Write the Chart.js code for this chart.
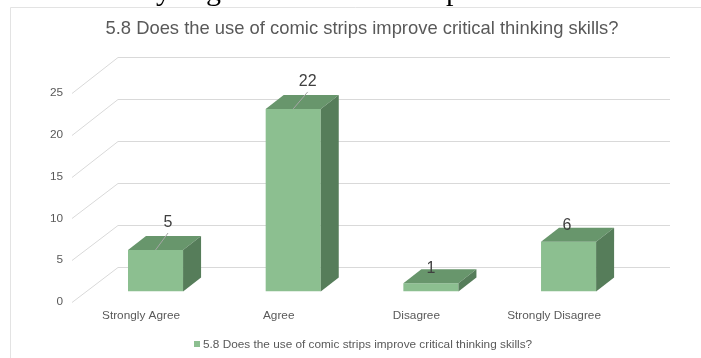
<!DOCTYPE html>
<html>
<head>
<meta charset="utf-8">
<script src="https://cdn.jsdelivr.net/npm/chart.js@4.4.1/dist/chart.umd.min.js"></script>
<style>
html,body{margin:0;padding:0;background:#fff;}
#wrap{width:701px;height:358px;position:relative;}
</style>
</head>
<body>
<div id="wrap"><canvas id="c" width="701" height="358"></canvas></div>
<script>
// ---- data ----
const titleText = "5.8 Does the use of comic strips improve critical thinking skills?";
const categories = ["Strongly Agree", "Agree", "Disagree", "Strongly Disagree"];
const seriesName = "5.8 Does the use of comic strips improve critical thinking skills?";
const seriesValues = [5, 22, 1, 6];
const yTicks = [0, 5, 10, 15, 20, 25];

// ---- style ----
const FONT = "'Liberation Sans', Arial, sans-serif";
const TEXT = "#595959";
const GRID = "#d9d9d9";
const FRONT = "#8cbf90";
const TOP = "#68966c";
const SIDE = "#567d5a";
const DEPTH_X = 18, DEPTH_Y = -14;
// label placement (dx, dy from bar front-top centre, leader line)
const labelPlace = [[12.5, -27, true], [14.5, -27, true], [0, -15, false], [-1.5, -16, false]];

const threeD = {
  id: 'threeD',
  beforeDatasetsDraw(chart) {
    const ctx = chart.ctx, ys = chart.scales.y, a = chart.chartArea;
    const base = ys.getPixelForValue(0);
    const span = base - ys.getPixelForValue(25);
    const yFront = v => 302 + (ys.getPixelForValue(v) - base) * (209 / span);
    const yBack = v => 267 + (ys.getPixelForValue(v) - base) * (210 / span);
    ctx.save();
    // frame
    ctx.strokeStyle = "#e3e3e3"; ctx.lineWidth = 1;
    ctx.beginPath(); ctx.moveTo(10.5, 358); ctx.lineTo(10.5, 7.5); ctx.lineTo(701, 7.5); ctx.stroke();
    // clipped serif line of text above
    ctx.fillStyle = "#000"; ctx.font = "30px 'Liberation Serif', serif"; ctx.textBaseline = 'alphabetic';
    ctx.fillText("y", 156, 0); ctx.fillText("g", 206, 0); ctx.fillText("p", 446, 0);
    // grid
    ctx.strokeStyle = GRID; ctx.lineWidth = 1;
    yTicks.forEach(v => {
      const yf = Math.round(yFront(v)) + 0.5, yb = Math.round(yBack(v)) + 0.5;
      ctx.beginPath(); ctx.moveTo(72, yf); ctx.lineTo(118, yb); ctx.lineTo(670, yb); ctx.stroke();
    });
    // y tick labels
    ctx.fillStyle = TEXT; ctx.font = "11.8px " + FONT; ctx.textAlign = 'right'; ctx.textBaseline = 'middle';
    yTicks.forEach(v => ctx.fillText(String(v), 63, yFront(v)));
    // title
    ctx.textAlign = 'center'; ctx.textBaseline = 'alphabetic';
    ctx.font = "18.4px " + FONT;
    ctx.fillText(titleText, 362, 33.5);
    // category labels
    ctx.font = "11.8px " + FONT; ctx.textBaseline = 'middle';
    const meta = chart.getDatasetMeta(0);
    meta.data.forEach((bar, i) => ctx.fillText(categories[i], bar.x - 14.5, 316));
    // legend
    ctx.fillStyle = FRONT; ctx.fillRect(194, 341, 6, 6);
    ctx.fillStyle = TEXT; ctx.textAlign = 'left';
    ctx.fillText(seriesName, 203, 344.5);
    ctx.restore();
  },
  afterDatasetsDraw(chart) {
    const ctx = chart.ctx;
    const meta = chart.getDatasetMeta(0);
    ctx.save();
    meta.data.forEach((bar, i) => {
      const x1 = bar.x - bar.width / 2, x2 = bar.x + bar.width / 2, yt = bar.y, yb = bar.base;
      // top face
      ctx.fillStyle = TOP;
      ctx.beginPath();
      ctx.moveTo(x1, yt); ctx.lineTo(x2, yt); ctx.lineTo(x2 + DEPTH_X, yt + DEPTH_Y); ctx.lineTo(x1 + DEPTH_X, yt + DEPTH_Y);
      ctx.closePath(); ctx.fill();
      // side face
      ctx.fillStyle = SIDE;
      ctx.beginPath();
      ctx.moveTo(x2, yt); ctx.lineTo(x2 + DEPTH_X, yt + DEPTH_Y); ctx.lineTo(x2 + DEPTH_X, yb + DEPTH_Y); ctx.lineTo(x2, yb);
      ctx.closePath(); ctx.fill();
      // data labels
      const p = labelPlace[i];
      const lx = bar.x + p[0], ly = yt + p[1];
      if (p[2]) {
        ctx.strokeStyle = "#a6a6a6"; ctx.lineWidth = 1;
        ctx.beginPath(); ctx.moveTo(lx, ly + 10); ctx.lineTo(bar.x, yt); ctx.stroke();
      }
      ctx.fillStyle = "#404040"; ctx.font = "16px " + FONT; ctx.textAlign = 'center'; ctx.textBaseline = 'middle';
      ctx.fillText(String(seriesValues[i]), lx, ly);
    });
    ctx.restore();
  }
};

new Chart(document.getElementById('c'), {
  type: 'bar',
  data: {
    labels: categories,
    datasets: [{
      label: seriesName,
      data: seriesValues,
      backgroundColor: FRONT,
      borderWidth: 0,
      categoryPercentage: 1.0,
      barPercentage: 0.4
    }]
  },
  options: {
    responsive: false,
    devicePixelRatio: 1,
    animation: false,
    layout: { padding: { left: 86.7, right: 63.6, top: 84, bottom: 66.5 } },
    plugins: { legend: { display: false }, title: { display: false }, tooltip: { enabled: false } },
    scales: {
      x: { display: false, offset: true },
      y: { display: false, min: 0, max: 25 }
    }
  },
  plugins: [threeD]
});
</script>
</body>
</html>
